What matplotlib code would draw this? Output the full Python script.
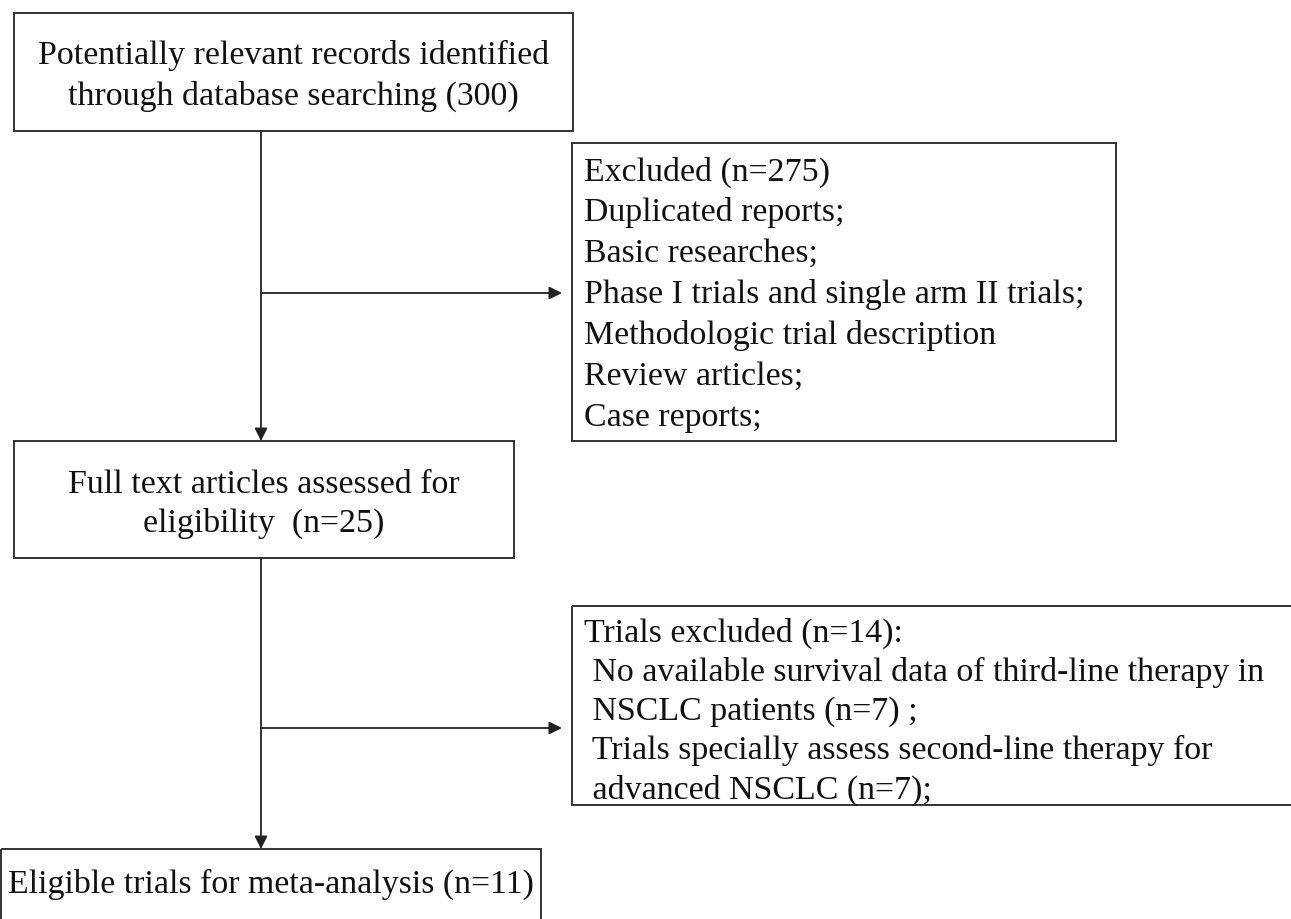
import matplotlib.pyplot as plt
from matplotlib.patches import Rectangle

# --- flow chart content ---
main_steps = [
    ["Potentially relevant records identified",
     "through database searching (300)"],
    ["Full text articles assessed for",
     "eligibility  (n=25)"],
    ["Eligible trials for meta-analysis (n=11)"],
]
excluded_1 = [
    "Excluded (n=275)",
    "Duplicated reports;",
    "Basic researches;",
    "Phase I trials and single arm II trials;",
    "Methodologic trial description",
    "Review articles;",
    "Case reports;",
]
excluded_2 = [
    "Trials excluded (n=14):",
    " No available survival data of third-line therapy in",
    " NSCLC patients (n=7) ;",
    " Trials specially assess second-line therapy for",
    " advanced NSCLC (n=7);",
]

# --- layout (pixel space, y downwards) ---
W, H = 1291, 920
main_boxes = [(14, 14, 573, 132), (14, 442, 514, 559), (1, 850, 541, 930)]
main_text_y = [[55, 96], [485, 523], [884]]
side_boxes = [(572, 144, 1116, 442), (572, 607, 1298, 806)]
stem_x = 261
branch_y = [294, 729]
fs = 24.4
font = "Liberation Serif"

fig = plt.figure(figsize=(W / 100, H / 100), dpi=100)
ax = fig.add_axes([0, 0, 1, 1])
ax.set_xlim(0, W)
ax.set_ylim(H, 0)
ax.axis("off")

def box(x0, y0, x1, y1):
    ax.add_patch(Rectangle((x0, y0), x1 - x0, y1 - y0, fill=False,
                           edgecolor="#333333", linewidth=1.4))

def arrow(x0, y0, x1, y1):
    ax.annotate("", xy=(x1, y1), xytext=(x0, y0),
                arrowprops=dict(arrowstyle="-|>", color="#222222", lw=1.3,
                                mutation_scale=19, shrinkA=0, shrinkB=0))

# main boxes
for (x0, y0, x1, y1), lines, ys in zip(main_boxes, main_steps, main_text_y):
    box(x0, y0, x1, y1)
    for line, y in zip(lines, ys):
        ax.text((x0 + x1) / 2, y, line, ha="center", va="center",
                fontsize=fs, family=font, color="#111111")

# side boxes
for (x0, y0, x1, y1), lines, y_first, step in [
        (side_boxes[0], excluded_1, 172, 41.0),
        (side_boxes[1], excluded_2, 633, 39.3)]:
    box(x0, y0, x1, y1)
    for i, line in enumerate(lines):
        ax.text(x0 + 12, y_first + i * step, line, ha="left", va="center",
                fontsize=fs, family=font, color="#111111")

# connectors
arrow(stem_x, main_boxes[0][3], stem_x, main_boxes[1][1])
arrow(stem_x, main_boxes[1][3], stem_x, main_boxes[2][1])
for y in branch_y:
    arrow(stem_x, y, 562, y)

fig.savefig("out.png", dpi=100)
